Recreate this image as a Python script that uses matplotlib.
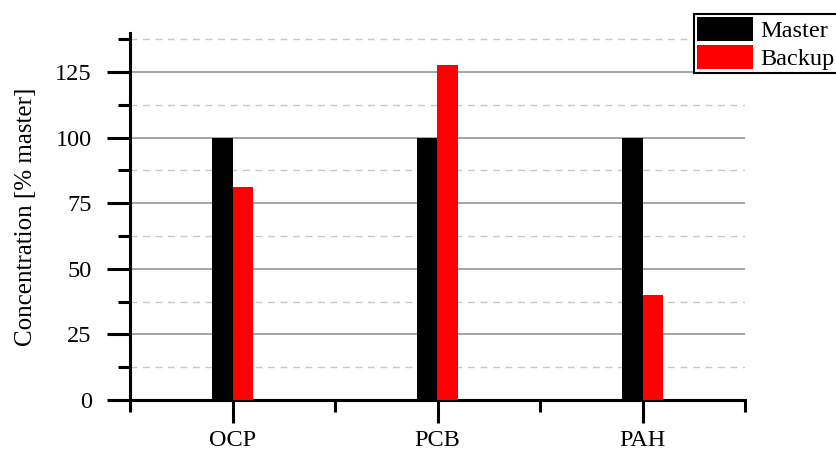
import matplotlib
matplotlib.use('Agg')
import matplotlib.pyplot as plt
import numpy as np
from matplotlib.ticker import MultipleLocator, FixedLocator

plt.rcParams['font.family'] = ['Liberation Serif', 'DejaVu Serif']

# data
categories = ['OCP', 'PCB', 'PAH']
master = [100, 100, 100]
backup = [81, 127.5, 40]

x = np.arange(1, len(categories) + 1)
w = 0.1

fig = plt.figure(figsize=(8.36, 4.57), dpi=100)
ax = fig.add_axes([130 / 836, 57 / 457, 615 / 836, 367.3 / 457])

ax.bar(x - w / 2, master, w, color='black', label='Master', zorder=3)
ax.bar(x + w / 2, backup, w, color='#ff0000', label='Backup', zorder=3)

ax.set_xlim(0.5, 3.5)
ax.set_ylim(0, 140)

ax.yaxis.set_major_locator(MultipleLocator(25))
ax.yaxis.set_minor_locator(MultipleLocator(12.5))
ax.xaxis.set_major_locator(FixedLocator(x))
ax.xaxis.set_minor_locator(FixedLocator([0.5, 1.5, 2.5, 3.5]))
ax.set_xticklabels(categories)

ax.grid(which='major', axis='y', color='#8c8c8c', linewidth=1.1, zorder=0)
ax.grid(which='minor', axis='y', color='#c8c8c8', linewidth=1.0,
        linestyle=(0, (5, 4)), zorder=0)

for s in ['top', 'right']:
    ax.spines[s].set_visible(False)
for s in ['left', 'bottom']:
    ax.spines[s].set_linewidth(2.2)

ax.tick_params(which='major', direction='out', length=16.5, width=2.2,
               labelsize=17.5)
ax.tick_params(which='minor', direction='out', length=8.6, width=2.2)
ax.tick_params(axis='y', which='major', pad=11)
ax.tick_params(axis='x', which='major', pad=5)

ax.set_ylabel('Concentration [% master]', fontsize=18, labelpad=13)

fig.legend(loc='upper left', bbox_to_anchor=(694 / 836, 1 - 14 / 457),
           bbox_transform=fig.transFigure, fontsize=17.5, fancybox=False,
           edgecolor='black', framealpha=1, borderaxespad=0, borderpad=0.12,
           handlelength=2.3, handleheight=1.12, labelspacing=0.14,
           handletextpad=0.32).get_frame().set_linewidth(1.5)

fig.savefig('out.png', dpi=100)
